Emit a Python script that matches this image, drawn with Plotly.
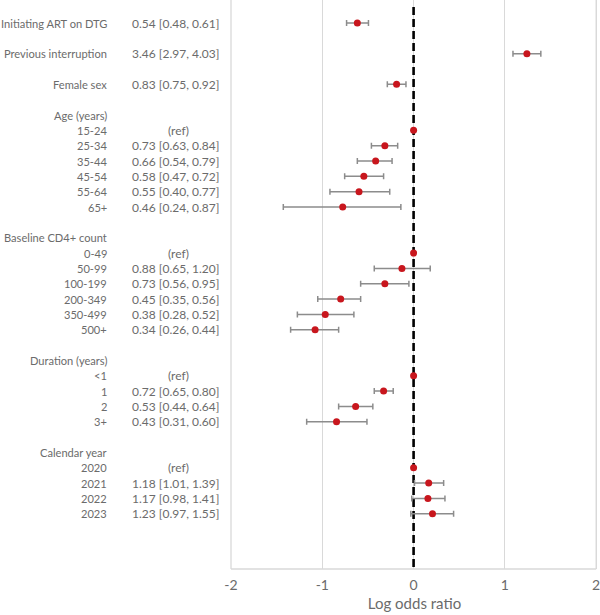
import numpy as np
import plotly.graph_objects as go

# ---- data ----
row_labels = ["Initiating ART on DTG", "", "Previous interruption", "", "Female sex", "",
              "Age (years)", "15-24", "25-34", "35-44", "45-54", "55-64", "65+", "",
              "Baseline CD4+ count", "0-49", "50-99", "100-199", "200-349", "350-499", "500+", "",
              "Duration (years)", "<1", "1", "2", "3+", "",
              "Calendar year", "2020", "2021", "2022", "2023"]
odds_ratio = [0.54, None, 3.46, None, 0.83, None,
              None, 1.00, 0.73, 0.66, 0.58, 0.55, 0.46, None,
              None, 1.00, 0.88, 0.73, 0.45, 0.38, 0.34, None,
              None, 1.00, 0.72, 0.53, 0.43, None,
              None, 1.00, 1.18, 1.17, 1.23]
ci_low = [0.48, None, 2.97, None, 0.75, None,
          None, None, 0.63, 0.54, 0.47, 0.40, 0.24, None,
          None, None, 0.65, 0.56, 0.35, 0.28, 0.26, None,
          None, None, 0.65, 0.44, 0.31, None,
          None, None, 1.01, 0.98, 0.97]
ci_high = [0.61, None, 4.03, None, 0.92, None,
           None, None, 0.84, 0.79, 0.72, 0.77, 0.87, None,
           None, None, 1.20, 0.95, 0.56, 0.52, 0.44, None,
           None, None, 0.80, 0.64, 0.60, None,
           None, None, 1.39, 1.41, 1.55]
is_ref = [False] * len(row_labels)
for i in (7, 15, 23, 29):
    is_ref[i] = True
x_ticks = [-2, -1, 0, 1, 2]

# ---- derived ----
ys, xs, e_plus, e_minus = [], [], [], []
for i, orv in enumerate(odds_ratio):
    if orv is None:
        continue
    lx = float(np.log(orv))
    ys.append(i)
    xs.append(lx)
    if ci_low[i] is None:
        e_plus.append(0); e_minus.append(0)
    else:
        e_minus.append(lx - float(np.log(ci_low[i])))
        e_plus.append(float(np.log(ci_high[i])) - lx)

TXT = "#6b6b6b"
FONT = "Lato"
GRID = "#d9d9d9"
L = 231
UNIT = 91.25          # pixels per x unit
X_MAX = 2.02
PLOT_W = UNIT * (X_MAX + 2)
R = 600 - L - PLOT_W

def px_to_paper(px):
    return (px - L) / PLOT_W

fig = go.Figure()

# right-most gridline at x = 2 (plotly drops gridlines near the edge)
fig.add_shape(type="line", x0=x_ticks[-1], x1=x_ticks[-1], y0=0, y1=1, xref="x", yref="paper",
              line=dict(color=GRID, width=1.3), layer="below")

# zero reference line (dashed)
fig.add_shape(type="line", x0=0, x1=0, y0=-1.05, y1=35.6, xref="x", yref="y",
              line=dict(color="black", width=2.6, dash="8px,4px"), layer="between")

# error bars
fig.add_trace(go.Scatter(
    x=xs, y=ys, mode="markers",
    marker=dict(size=7, color="rgba(0,0,0,0)"),
    error_x=dict(type="data", symmetric=False, array=e_plus, arrayminus=e_minus,
                 color="#8c8c8c", thickness=1.5, width=3),
    showlegend=False, hoverinfo="skip"))

fig.add_trace(go.Scatter(
    x=xs, y=ys, mode="markers",
    marker=dict(size=7, color="#c8161d"),
    showlegend=False))

# text annotations
for i, lab in enumerate(row_labels):
    if lab:
        fig.add_annotation(x=px_to_paper(109.5), xref="paper", y=i, yref="y",
                           text=lab, showarrow=False, xanchor="right",
                           font=dict(family=FONT, size=11.1, color=TXT))
    if odds_ratio[i] is not None:
        if is_ref[i]:
            fig.add_annotation(x=px_to_paper(179), xref="paper", y=i, yref="y",
                               text="(ref)", showarrow=False, xanchor="center",
                               font=dict(family=FONT, size=12, color=TXT))
        else:
            txt = f"{odds_ratio[i]:.2f} [{ci_low[i]:.2f}, {ci_high[i]:.2f}]"
            fig.add_annotation(x=px_to_paper(221), xref="paper", y=i, yref="y",
                               text=txt, showarrow=False, xanchor="right",
                               font=dict(family=FONT, size=12, color=TXT))

fig.update_layout(
    width=600, height=615,
    margin=dict(l=L, r=R, t=0, b=46),
    paper_bgcolor="white", plot_bgcolor="white",
    font=dict(family=FONT, color=TXT),
    xaxis=dict(range=[-2, X_MAX], tickvals=x_ticks, ticktext=[str(t) for t in x_ticks],
               showgrid=True, gridcolor=GRID, gridwidth=1.3,
               zeroline=False, showline=False,
               ticks="", ticklabelstandoff=6, ticklabeloverflow="allow",
               tickfont=dict(family=FONT, size=14, color=TXT),
               title=dict(text="Log odds ratio", font=dict(family=FONT, size=15, color=TXT),
                          standoff=6)),
    yaxis=dict(range=[35.6, -1.5], showticklabels=False, showgrid=False,
               zeroline=False, showline=False),
)
# left and bottom axis lines (bottom ends at x = 2)
fig.add_shape(type="line", x0=0, x1=0, y0=0, y1=1, xref="paper", yref="paper",
              line=dict(color=GRID, width=1.3))
fig.add_shape(type="line", x0=-2, x1=2, y0=0, y1=0, xref="x", yref="paper",
              line=dict(color=GRID, width=1.3))

fig.write_html("out.html")
